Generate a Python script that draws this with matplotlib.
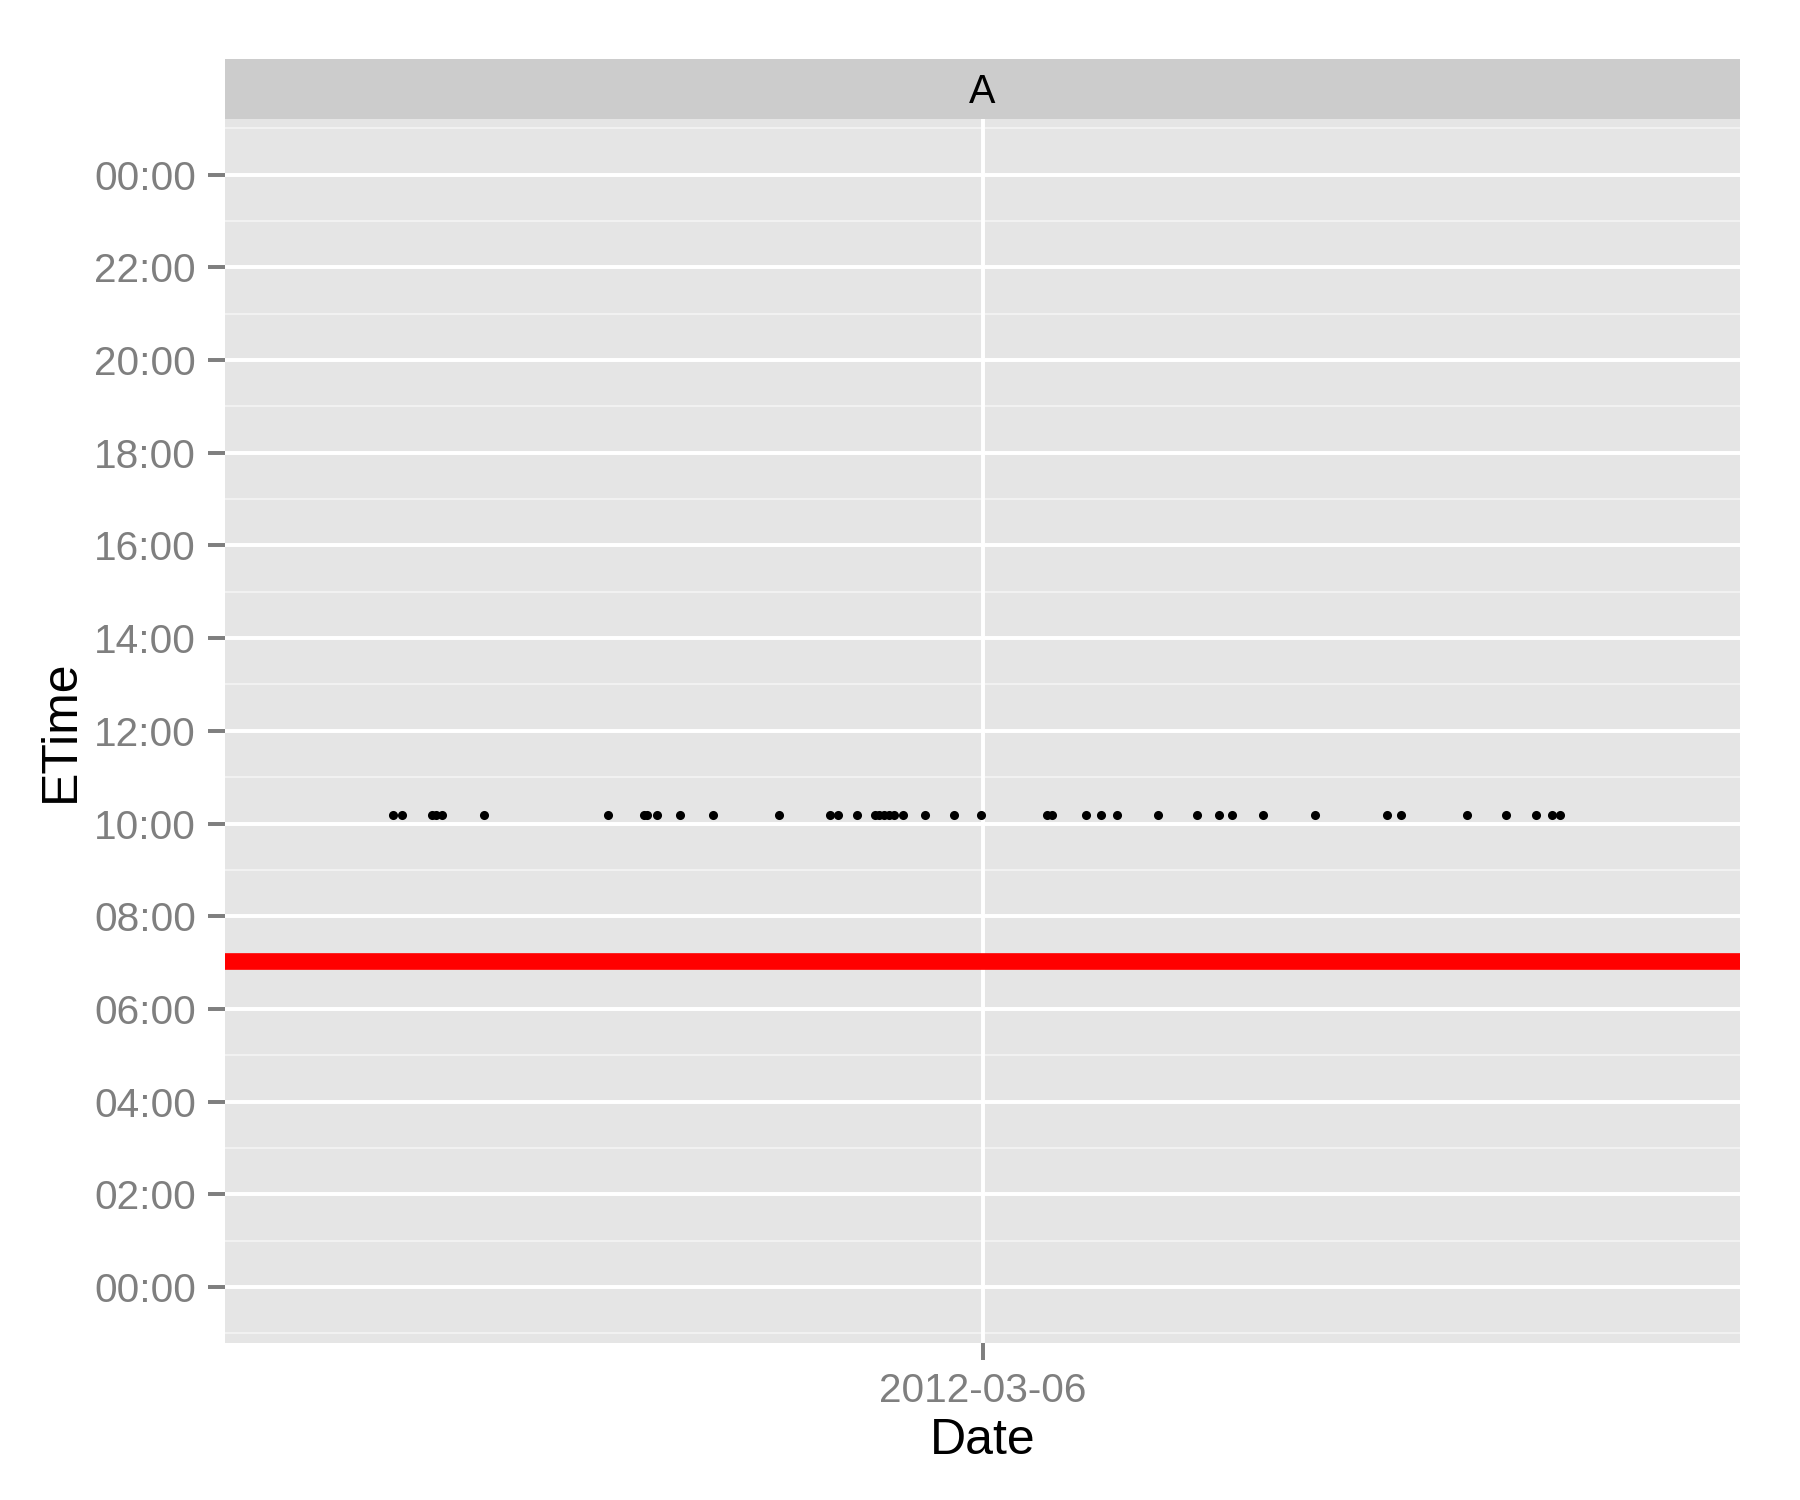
import matplotlib
matplotlib.use("Agg")
import matplotlib.pyplot as plt
import matplotlib.dates as mdates
import numpy as np
import pandas as pd

plt.rcParams['font.family'] = ['Liberation Sans', 'DejaVu Sans']

# data
facet = "A"
day = pd.Timestamp("2012-03-06")
# point positions, hours relative to 2012-03-06 00:00
offset_hours = [-18.68, -18.39, -17.45, -17.31, -17.13, -15.78, -11.86, -10.74,
                -10.63, -10.30, -9.60, -8.55, -6.46, -4.84, -4.59, -3.99, -3.41,
                -3.29, -3.13, -2.97, -2.81, -2.53, -1.83, -0.89, -0.05, 2.04,
                2.21, 3.27, 3.74, 4.26, 5.55, 6.79, 7.50, 7.89, 8.89, 10.54,
                12.82, 13.25, 15.35, 16.59, 17.54, 18.04, 18.30]
etime_hours = [10.18] * len(offset_hours)
red_line_hours = 7.04
y_ticks = list(range(0, 25, 2))
y_labels = ["%02d:00" % (h % 24) for h in y_ticks]

dates = [day + pd.Timedelta(hours=h) for h in offset_hours]

fig = plt.figure(figsize=(12, 10), dpi=150)
ax = fig.add_axes([0.125, 0.1049, 0.8417, 0.8158])
strip = fig.add_axes([0.125, 0.9207, 0.8417, 0.040])

grey = "#7f7f7f"
ax.set_facecolor("#e5e5e5")
for s in ax.spines.values():
    s.set_visible(False)

# minor grid
for h in np.arange(-1, 26, 2):
    ax.axhline(h, color="#f2f2f2", lw=0.9, zorder=0)
ax.set_yticks(y_ticks)
ax.set_yticklabels(y_labels)
ax.grid(True, which="major", color="white", lw=1.9, zorder=1)
ax.set_axisbelow(True)

ax.axhline(red_line_hours, color="red", lw=8, zorder=2)
ax.scatter(dates, etime_hours, s=19, color="black", zorder=3, linewidths=0)

ax.set_xlim(day - pd.Timedelta(days=1), day + pd.Timedelta(days=1))
ax.set_ylim(-1.2, 25.2)
ax.set_xticks([day])
ax.xaxis.set_major_formatter(mdates.DateFormatter("%Y-%m-%d"))

ax.tick_params(axis="both", colors=grey, labelsize=19.5, length=8, width=1.9, pad=6)
ax.tick_params(axis="both", labelcolor=grey)

ax.set_xlabel("Date", fontsize=24, labelpad=4)
ax.set_ylabel("ETime", fontsize=24, labelpad=5)

strip.set_facecolor("#cccccc")
strip.set_xticks([])
strip.set_yticks([])
for s in strip.spines.values():
    s.set_visible(False)
strip.text(0.5, 0.45, facet, ha="center", va="center", fontsize=19, transform=strip.transAxes)

fig.savefig("out.png", dpi=150)
